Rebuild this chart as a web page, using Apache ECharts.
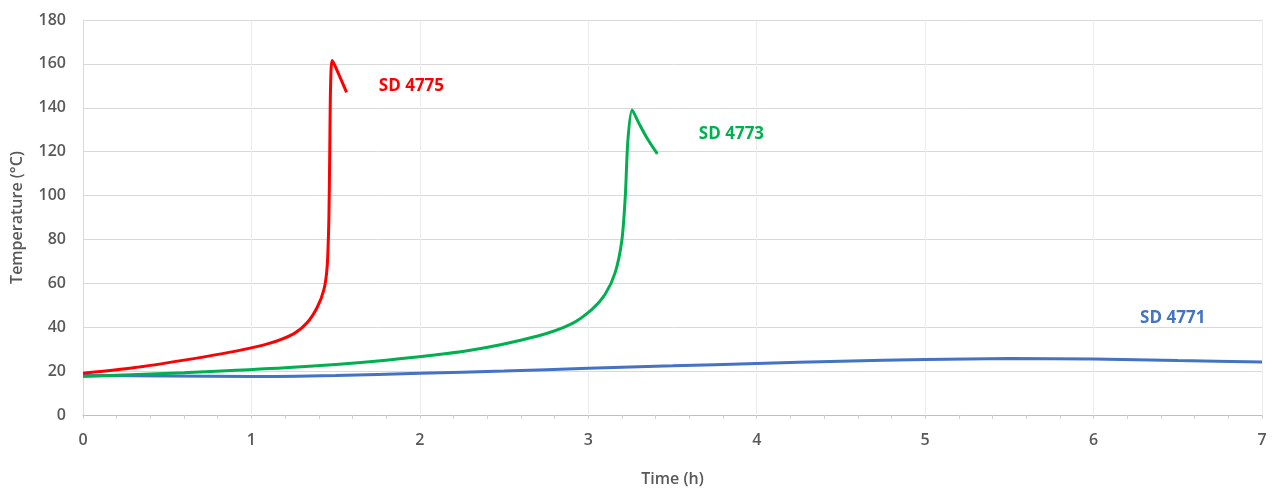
<!DOCTYPE html>
<html>
<head>
<meta charset="utf-8">
<script src="https://cdn.jsdelivr.net/npm/echarts@6/dist/echarts.min.js"></script>
<style>
html,body{margin:0;padding:0;background:#fff;}
#chart{width:1273px;height:492px;}
</style>
</head>
<body>
<div id="chart"></div>
<script>
// Time (h) and temperature (°C)
const redTime  = [0, 0.3, 0.6, 0.9, 1.1, 1.25, 1.33, 1.39, 1.43, 1.45, 1.46, 1.465, 1.47, 1.48, 1.52, 1.565];
const redTemp  = [19, 21.5, 25, 29, 32.5, 37, 42, 49, 57, 68, 90, 120, 150, 161.5, 155, 147];
const greenTime = [0, 0.6, 1.2, 1.8, 2.3, 2.7, 2.9, 3.02, 3.1, 3.16, 3.2, 3.22, 3.235, 3.26, 3.3, 3.35, 3.41];
const greenTemp = [17.5, 19.3, 21.5, 25, 29.5, 36, 41.5, 48, 55, 65, 80, 100, 125, 139, 133, 126, 119];
const blueTime = [0, 0.5, 1, 1.5, 2, 2.5, 3, 3.5, 4, 4.5, 5, 5.5, 6, 6.5, 7];
const blueTemp = [18, 17.8, 17.5, 18, 19, 20, 21.3, 22.4, 23.5, 24.5, 25.3, 25.7, 25.5, 24.8, 24.2];
const seriesNames = ['SD 4775', 'SD 4773', 'SD 4771'];
const labelPos = [[1.95, 150], [3.85, 128], [6.47, 44]];
const xTicks = [0, 1, 2, 3, 4, 5, 6, 7];
const yTicks = [0, 20, 40, 60, 80, 100, 120, 140, 160, 180];

const colors = ['#FF0000', '#00B050', '#4472C4'];
const zip = (a, b) => a.map((v, i) => [v, b[i]]);
const datasets = [zip(redTime, redTemp), zip(greenTime, greenTemp), zip(blueTime, blueTemp)];
const font = 'Open Sans';

const chart = echarts.init(document.getElementById('chart'));
chart.setOption({
  animation: false,
  grid: {left: 83, right: 11, top: 20, bottom: 74},
  xAxis: {
    type: 'value', min: xTicks[0], max: xTicks[xTicks.length - 1], interval: 1,
    name: 'Time (h)', nameLocation: 'middle', nameGap: 56,
    nameTextStyle: {color: '#595959', fontSize: 16, fontWeight: 600, fontFamily: font},
    axisLine: {show: true, lineStyle: {color: '#BFBFBF', width: 1}},
    axisTick: {show: true, length: 4, lineStyle: {color: '#D0D0D0'}},
    minorTick: {show: true, splitNumber: 5, length: 4, lineStyle: {color: '#D0D0D0'}},
    axisLabel: {color: '#595959', fontSize: 16, fontWeight: 600, fontFamily: font, margin: 17},
    splitLine: {show: true, lineStyle: {color: '#EDEDED', width: 1}}
  },
  yAxis: {
    type: 'value', min: yTicks[0], max: yTicks[yTicks.length - 1], interval: 20,
    name: 'Temperature (°C)', nameLocation: 'middle', nameGap: 58, nameRotate: 90,
    nameTextStyle: {color: '#595959', fontSize: 16, fontWeight: 600, fontFamily: font},
    axisLine: {show: true, lineStyle: {color: '#D9D9D9', width: 1}},
    axisTick: {show: false},
    axisLabel: {color: '#595959', fontSize: 16, fontWeight: 600, fontFamily: font, margin: 17},
    splitLine: {show: true, lineStyle: {color: '#D9D9D9', width: 1}}
  },
  series: datasets.map((d, i) => ({
    type: 'line',
    name: seriesNames[i],
    data: d,
    showSymbol: false,
    smooth: 0.25,
    lineStyle: {color: colors[i], width: 3},
    itemStyle: {color: colors[i]},
    z: 3 - i,
    markPoint: {
      symbol: 'circle', symbolSize: 0, silent: true,
      data: [{coord: labelPos[i], value: seriesNames[i]}],
      label: {show: true, position: 'inside', formatter: seriesNames[i], color: colors[i],
              fontSize: 17, fontWeight: 700, fontFamily: font}
    }
  }))
});
</script>
</body>
</html>
